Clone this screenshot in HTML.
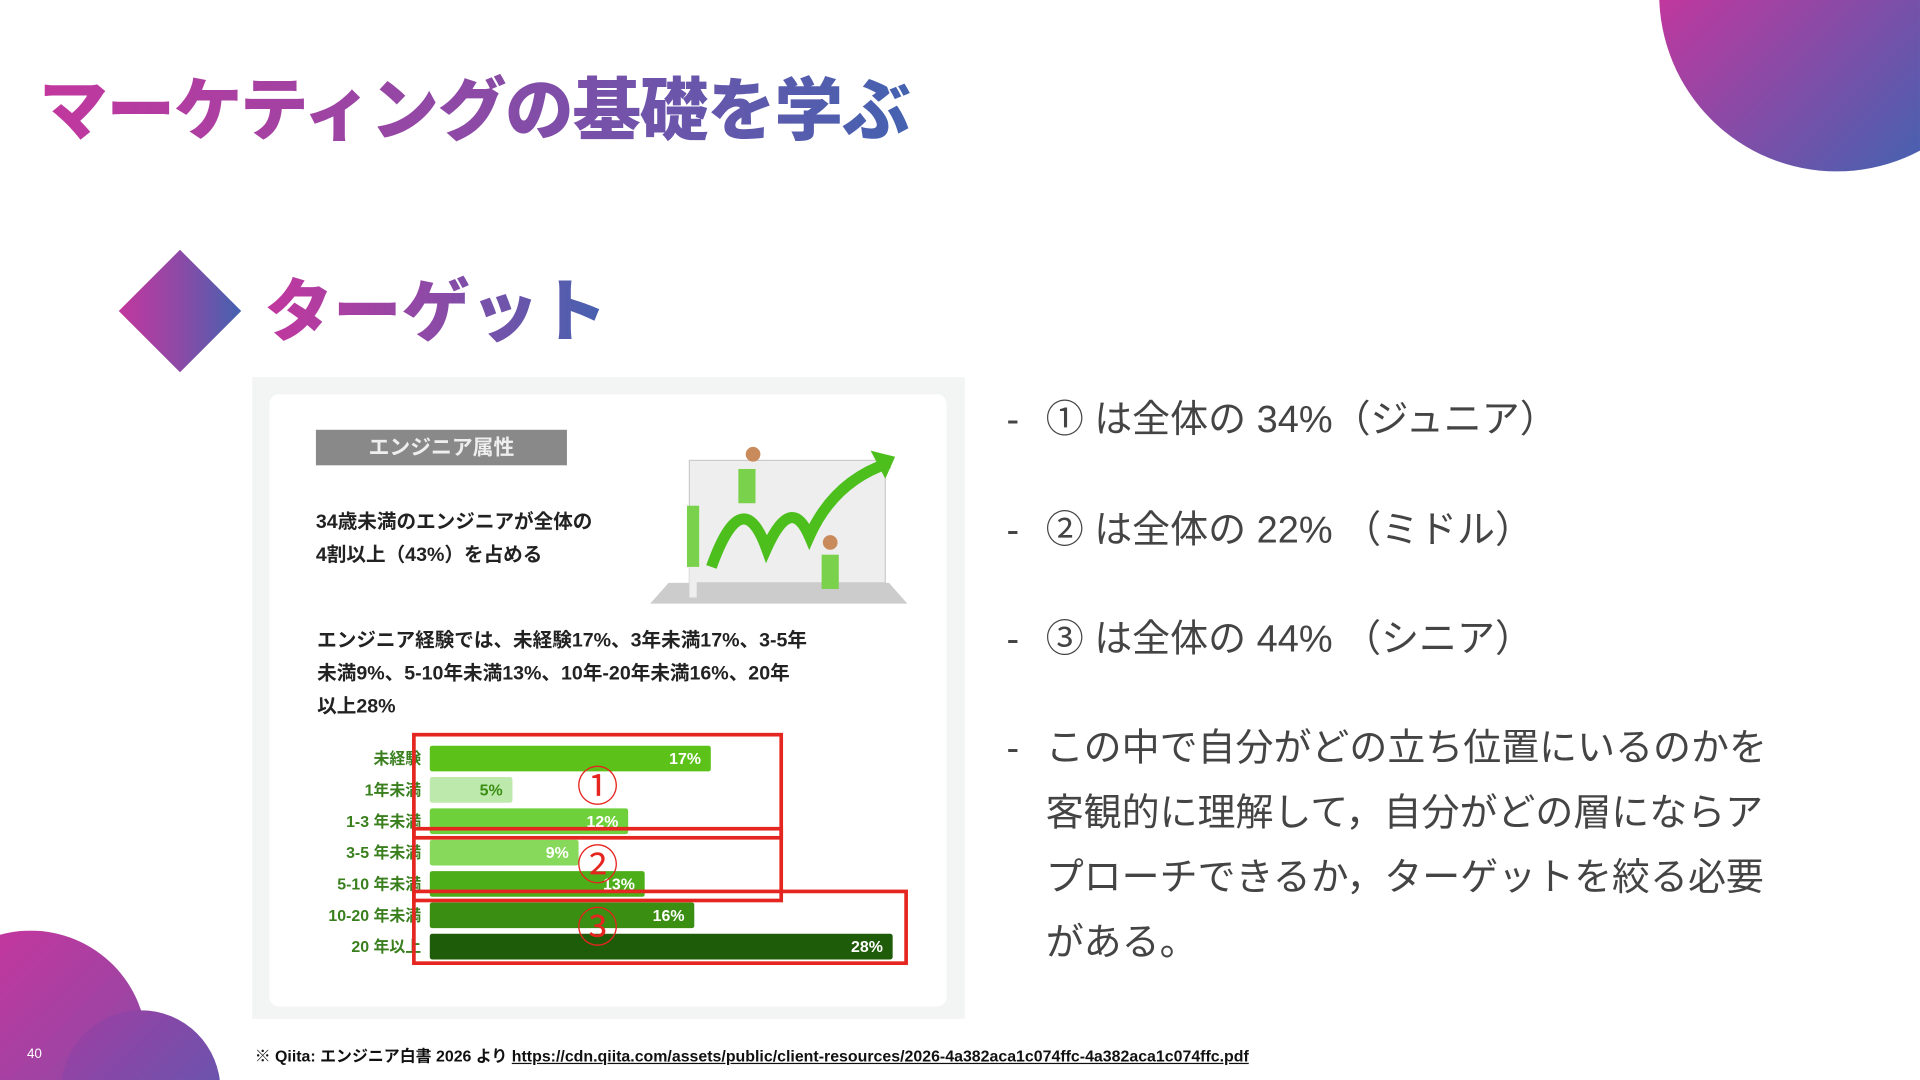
<!DOCTYPE html>
<html><head><meta charset="utf-8">
<style>
html,body{margin:0;padding:0;width:1920px;height:1080px;overflow:hidden;background:#fff}
#s{position:absolute;left:0;top:0;width:1568px;height:882px;overflow:hidden;transform:scale(1.22448);transform-origin:0 0;font-family:"Liberation Sans","Noto Sans CJK JP",sans-serif}
.abs{position:absolute}
.grad{background:linear-gradient(90deg,#c2379e,#8c4aa6 50%,#4462b0);-webkit-background-clip:text;background-clip:text;color:transparent;font-weight:900}
.bul{position:absolute;left:822px;font-size:31px;color:#444;line-height:53px}
.bul span.d{position:absolute;left:0}
.bul div{margin-left:32px}
</style></head><body>
<div id="s">
  <div class="abs" style="left:1350px;top:0;width:218px;height:142px;clip-path:circle(145px at 150px -5px);background:linear-gradient(135deg,#c2379e,#4462b0)"></div>
  <div class="abs" style="left:0;top:760px;width:120px;height:122px;clip-path:circle(95px at 25px 95px);background:linear-gradient(135deg,#c2379e,#8c4aa6)"></div>
  <div class="abs" style="left:50px;top:825px;width:130px;height:57px;clip-path:circle(65px at 65px 65px);background:linear-gradient(135deg,#a03ea2,#6b53ad)"></div>
  <div class="abs" style="left:22px;top:855px;font-size:11px;color:#fff">40</div>

  <div class="abs grad" style="left:32px;top:56px;font-size:56px;line-height:70px;letter-spacing:-1px">マーケティングの基礎を学ぶ</div>
  <div class="abs" style="left:97px;top:204px;width:100px;height:100px;clip-path:polygon(50% 0,100% 50%,50% 100%,0 50%);background:linear-gradient(90deg,#c2379e,#8c4aa6 50%,#4462b0)"></div>
  <div class="abs grad" style="left:216px;top:220px;font-size:56px;line-height:70px">ターゲット</div>

  <div class="abs" style="left:206px;top:308px;width:582px;height:524px;background:#f3f4f4">
    <div class="abs" style="left:14px;top:14px;width:553px;height:500px;background:#fff;border-radius:8px"></div>
    <div class="abs" style="left:52px;top:43px;width:205px;height:29px;background:#898989;color:#eee;font-size:17px;font-weight:bold;text-align:center;line-height:29px">エンジニア属性</div>
    <div class="abs" style="left:52px;top:105px;font-size:16px;font-weight:bold;line-height:27px;color:#222">34歳未満のエンジニアが全体の<br>4割以上（43%）を占める</div>
    <svg class="abs" style="left:325px;top:55px" width="210" height="135">
      <rect x="32" y="13" width="160" height="100" fill="#eee" stroke="#ccc"/>
      <polygon points="0,130 210,130 195,113 15,113" fill="#ccc"/>
      <path d="M50,100 Q75,30 95,85 Q115,40 130,75 Q150,30 195,15" stroke="#4cbf1d" stroke-width="9" fill="none"/>
      <polygon points="180,5 200,10 192,28" fill="#4cbf1d"/>
      <rect x="72" y="20" width="14" height="28" fill="#7ad24c"/><circle cx="84" cy="8" r="6" fill="#c98a5c"/>
      <rect x="30" y="50" width="10" height="50" fill="#7ad24c"/><rect x="32" y="100" width="6" height="25" fill="#eee"/>
      <rect x="140" y="90" width="14" height="28" fill="#7ad24c"/><circle cx="147" cy="80" r="6" fill="#c98a5c"/>
    </svg>
    <div class="abs" style="left:53px;top:202px;font-size:16px;font-weight:bold;line-height:27px;color:#222;width:480px">エンジニア経験では、未経験17%、3年未満17%、3-5年<br>未満9%、5-10年未満13%、10年-20年未満16%、20年<br>以上28%</div>
  </div>

  <svg id="chart" class="abs" style="left:0;top:0" width="1568" height="882"></svg>

  <div class="bul" style="top:316px"><span class="d">-</span><div>① は全体の 34%（ジュニア）</div></div>
  <div class="bul" style="top:406px"><span class="d">-</span><div>② は全体の 22% （ミドル）</div></div>
  <div class="bul" style="top:495px"><span class="d">-</span><div>③ は全体の 44% （シニア）</div></div>
  <div class="bul" style="top:584px;width:640px"><span class="d">-</span><div>この中で自分がどの立ち位置にいるのかを客観的に理解して，自分がどの層にならアプローチできるか，ターゲットを絞る必要がある。</div></div>

  <div class="abs" style="left:208px;top:852px;font-size:13px;font-weight:bold;color:#111">※ Qiita: エンジニア白書 2026 より <a style="color:#111;text-decoration:underline">https://cdn.qiita.com/assets/public/client-resources/2026-4a382aca1c074ffc-4a382aca1c074ffc.pdf</a></div>
</div>
<script>
const categories=["未経験","1年未満","1-3 年未満","3-5 年未満","5-10 年未満","10-20 年未満","20 年以上"];
const values=[17,5,12,9,13,16,28];
const valueLabels=["17%","5%","12%","9%","13%","16%","28%"];
const barColors=["#5cc21a","#bde9ad","#6ed03a","#86d95a","#4caf1a","#3a8e12","#1f5c0a"];
const groupLabels=["①","②","③"];
const groupStart=[0,3,5];
const groupEnd=[2,4,6];
const svg=document.getElementById('chart');
const NS='http://www.w3.org/2000/svg';
const x0=351, pxPer=13.5, y0=609, rowH=25.6, barH=21;
const xs=v=>x0+v*pxPer;
const ys=i=>y0+i*rowH;
function mk(t,a){const e=document.createElementNS(NS,t);for(const k in a)e.setAttribute(k,a[k]);svg.appendChild(e);return e;}
categories.forEach((c,i)=>{
  const r=mk('rect',{x:x0,y:ys(i),width:xs(values[i])-x0,height:barH,fill:barColors[i],rx:2});
  
  
  const l=mk('text',{x:344,y:ys(i)+15,'text-anchor':'end','font-size':13,'font-weight':'bold',fill:'#3a7f1e'});
  l.textContent=c;
  
  
  const v=mk('text',{x:xs(values[i])-8,y:ys(i)+15,'text-anchor':'end','font-size':13,'font-weight':'bold',fill:i==1?'#3a8e12':'#fff'});
  v.textContent=valueLabels[i];
  
  
});
const boxRight=[638,638,740];
groupLabels.forEach((g,k)=>{
  const top=ys(groupStart[k])-9, bot=ys(groupEnd[k])+barH+3;
  const b=mk('rect',{x:338,y:top,width:boxRight[k]-338,height:bot-top,fill:'none',stroke:'#e5251f','stroke-width':3});
  
  
  const t=mk('text',{x:488,y:(top+bot)/2+12,'text-anchor':'middle','font-size':34,fill:'#e5251f'});
  t.textContent=g;
  
  
});
</script>
</body></html>
